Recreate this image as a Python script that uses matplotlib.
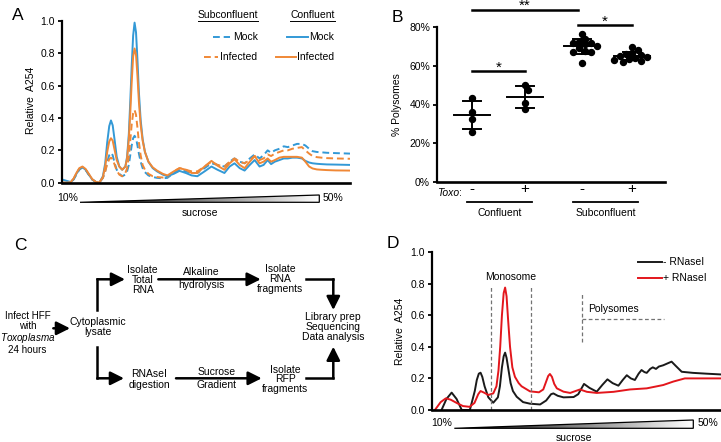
import numpy as np
import matplotlib
matplotlib.use('Agg')
import matplotlib.pyplot as plt
from matplotlib.patches import Polygon

plt.rcParams['font.family'] = ['Liberation Sans', 'DejaVu Sans']
plt.rcParams['font.size'] = 7.5
plt.rcParams['mathtext.fontset'] = 'custom'
plt.rcParams['mathtext.rm'] = 'Liberation Sans'
plt.rcParams['mathtext.it'] = 'Liberation Sans:italic'

W, H = 721, 442
BLUE = '#3399D6'
ORANGE = '#F08836'
RED = '#E3161C'
BLACK = '#1a1a1a'

# ---------------- panel A : polysome profiles (position along gradient 0-100)
gradA = [0, 1.5, 3, 4, 5, 6, 7.1, 8.2, 9.3, 10.5,
         11.8, 13, 14.2, 15.0, 15.7, 16.4, 17.0, 17.6, 18.3, 19.0,
         19.9, 20.9, 22, 22.6, 23.2, 23.7, 24.2, 24.7, 25.2, 25.7,
         26.2, 26.7, 27.3, 28, 28.8, 30, 31.5, 33, 35, 36.6,
         38.8, 40.8, 43, 45, 47, 49.5, 51.9, 54, 56.4, 58.2,
         59.9, 61.7, 63.4, 65.2, 66.9, 68.6, 70, 71.4, 72.6, 73.9,
         75.5, 77, 78.4, 80, 81.6, 83.3, 84.5, 85.8, 87, 88.5,
         90, 92, 95, 100]
confMock = [0.02, 0.012, 0.004, 0.02, 0.055, 0.085, 0.095, 0.08, 0.05, 0.02,
            0.003, 0.0, 0.04, 0.12, 0.25, 0.35, 0.385, 0.355, 0.26, 0.16,
            0.1, 0.08, 0.1, 0.16, 0.3, 0.5, 0.72, 0.91, 0.99, 0.93,
            0.76, 0.56, 0.39, 0.27, 0.19, 0.13, 0.09, 0.07, 0.05, 0.04,
            0.055, 0.073, 0.06, 0.045, 0.04, 0.07, 0.1, 0.08, 0.06, 0.1,
            0.12, 0.09, 0.075, 0.11, 0.14, 0.1, 0.11, 0.14, 0.115, 0.13,
            0.14, 0.15, 0.15, 0.155, 0.155, 0.15, 0.135, 0.125, 0.12, 0.117,
            0.115, 0.113, 0.112, 0.11]
confInf = [0.0, 0.0, 0.003, 0.025, 0.06, 0.09, 0.1, 0.085, 0.055, 0.022,
           0.004, 0.002, 0.035, 0.1, 0.19, 0.255, 0.275, 0.26, 0.2, 0.14,
           0.1, 0.08, 0.1, 0.15, 0.27, 0.43, 0.62, 0.78, 0.83, 0.79,
           0.66, 0.5, 0.36, 0.26, 0.19, 0.13, 0.095, 0.075, 0.055, 0.045,
           0.07, 0.09, 0.08, 0.06, 0.06, 0.1, 0.135, 0.105, 0.08, 0.12,
           0.145, 0.11, 0.09, 0.13, 0.165, 0.12, 0.13, 0.15, 0.13, 0.14,
           0.155, 0.16, 0.16, 0.16, 0.16, 0.155, 0.13, 0.1, 0.088, 0.082,
           0.08, 0.078, 0.076, 0.075]
subMock = [0.0, 0.0, 0.003, 0.02, 0.05, 0.08, 0.095, 0.08, 0.05, 0.02,
           0.004, 0.002, 0.03, 0.07, 0.13, 0.17, 0.185, 0.17, 0.12, 0.08,
           0.055, 0.04, 0.05, 0.07, 0.11, 0.17, 0.23, 0.275, 0.29, 0.275,
           0.23, 0.18, 0.13, 0.09, 0.065, 0.045, 0.035, 0.03, 0.027, 0.03,
           0.06, 0.08, 0.07, 0.06, 0.06, 0.09, 0.12, 0.11, 0.1, 0.13,
           0.15, 0.13, 0.12, 0.15, 0.175, 0.15, 0.17, 0.2, 0.185, 0.2,
           0.21, 0.225, 0.22, 0.23, 0.24, 0.24, 0.23, 0.21, 0.195, 0.19,
           0.188, 0.185, 0.183, 0.18]
subInf = [0.0, 0.0, 0.003, 0.022, 0.055, 0.085, 0.095, 0.08, 0.05, 0.02,
          0.004, 0.002, 0.03, 0.07, 0.115, 0.145, 0.155, 0.145, 0.11, 0.075,
          0.05, 0.04, 0.06, 0.09, 0.16, 0.26, 0.36, 0.43, 0.45, 0.42,
          0.34, 0.25, 0.17, 0.11, 0.08, 0.055, 0.04, 0.035, 0.032, 0.035,
          0.07, 0.09, 0.08, 0.07, 0.07, 0.1, 0.13, 0.11, 0.1, 0.13,
          0.15, 0.13, 0.12, 0.14, 0.165, 0.14, 0.15, 0.175, 0.165, 0.18,
          0.19, 0.2, 0.2, 0.21, 0.215, 0.22, 0.2, 0.18, 0.165, 0.158,
          0.155, 0.152, 0.15, 0.148]

# ---------------- panel B : % polysomes
groupsB = ['Confluent', 'Subconfluent']
toxoB = ['-', '+', '-', '+']
polyConfMock = [43.2, 36.0, 32.5, 26.0]
polyConfInf = [50.0, 47.5, 41.0, 37.5]
polySubMock = [76.5, 74, 72.5, 72, 72, 71, 70, 69, 67.5, 67, 67, 61.5]
polySubInf = [69.5, 68, 66.5, 66, 65.5, 65, 64.5, 64, 63.5, 63, 62.5, 62]
sigB = [('**', 0, 2, 89.0), ('*', 0, 1, 57.4), ('*', 2, 3, 81.0)]

# ---------------- panel D : RNaseI digestion profile
gradRed = [1.0, 3.0, 4.8, 6.5, 8.5, 10.7, 13.0, 14.7, 16.0, 16.8,
           18.0, 19.5, 21.2, 22.3, 23.0, 23.6, 24.2, 24.8, 25.3, 25.8,
           26.3, 27.0, 27.8, 28.7, 30.0, 31.0, 33.9, 37.0, 38.5, 39.5,
           40.2, 40.8, 41.5, 42.3, 43.2, 45.5, 47.8, 51.2, 53.6, 57.0,
           62.8, 68.5, 74.3, 80.0, 83.5, 87.5, 91.5, 100]
plusRNase = [0.0, 0.05, 0.074, 0.065, 0.045, 0.025, 0.02, 0.045, 0.1, 0.12,
             0.11, 0.095, 0.105, 0.15, 0.25, 0.4, 0.6, 0.74, 0.775, 0.72,
             0.58, 0.4, 0.27, 0.21, 0.17, 0.15, 0.118, 0.112, 0.13, 0.18,
             0.215, 0.228, 0.21, 0.165, 0.137, 0.116, 0.108, 0.13, 0.115, 0.108,
             0.115, 0.13, 0.137, 0.158, 0.18, 0.2, 0.2, 0.2]
gradBlack = [3.3, 5.0, 6.8, 8.5, 10.3, 13.1, 14.8, 15.5, 16.2, 16.8,
             17.4, 18.2, 19.5, 21.2, 22.8, 23.5, 24.2, 24.8, 25.3, 25.8,
             26.5, 27.2, 28.0, 29.3, 31.5, 33.9, 37.4, 39.5, 41.2, 42.0,
             43.5, 45.5, 49.0, 50.6, 52.6, 54.5, 57.0, 59.0, 60.7, 62.5,
             64.5, 66.0, 67.4, 68.8, 70.2, 71.5, 72.5, 73.5, 74.3, 75.5,
             76.4, 77.5, 78.5, 80.0, 81.5, 82.9, 84.3, 86.4, 90.3, 94.9,
             100]
minusRNase = [0.0, 0.07, 0.11, 0.07, 0.0, 0.0, 0.12, 0.19, 0.23, 0.236,
              0.21, 0.15, 0.08, 0.046, 0.08, 0.15, 0.27, 0.34, 0.363, 0.33,
              0.25, 0.17, 0.12, 0.084, 0.05, 0.04, 0.035, 0.06, 0.1, 0.105,
              0.09, 0.08, 0.082, 0.1, 0.165, 0.14, 0.116, 0.16, 0.194, 0.17,
              0.154, 0.19, 0.22, 0.2, 0.19, 0.23, 0.253, 0.24, 0.235, 0.26,
              0.27, 0.26, 0.275, 0.283, 0.295, 0.306, 0.28, 0.242, 0.235, 0.23,
              0.225]


def axes_px(fig, left, top, right, bottom):
    return fig.add_axes([left / W, 1 - bottom / H, (right - left) / W, (bottom - top) / H])


def style_axes(ax, lw=1.6):
    for s in ['top', 'right']:
        ax.spines[s].set_visible(False)
    ax.spines['left'].set_linewidth(lw)
    ax.spines['bottom'].set_linewidth(lw + 0.3)
    ax.tick_params(axis='y', length=3, width=1.3, pad=2, labelsize=7.5)
    ax.tick_params(axis='x', length=0)


def swarm(vals, xc, dx_unit=53.0, dy_unit=1.9375, diam=5.6):
    # simple beeswarm: shift points sideways until they don't overlap
    placed = []
    xs = np.zeros(len(vals))
    order = np.argsort(vals)[::-1]
    for i in order:
        y = vals[i] * dy_unit
        for k in range(0, 20):
            off = (k + 1) // 2 * (1 if k % 2 else -1) * diam * 0.55
            if all((off - px) ** 2 + (y - py) ** 2 >= diam ** 2 for px, py in placed):
                break
        placed.append((off, y))
        xs[i] = xc + off / dx_unit
    return xs


fig = plt.figure(figsize=(W / 100, H / 100), dpi=100)

# ---------------- A
axA = axes_px(fig, 62, 21, 350, 182.7)
axA.plot(gradA, subMock, color=BLUE, lw=1.4, ls=(0, (3.5, 2)))
axA.plot(gradA, subInf, color=ORANGE, lw=1.4, ls=(0, (3.5, 2)))
axA.plot(gradA, confMock, color=BLUE, lw=1.4)
axA.plot(gradA, confInf, color=ORANGE, lw=1.4)
axA.set_xlim(0, 100)
axA.set_ylim(0, 1)
style_axes(axA)
axA.set_xticks([])
axA.set_yticks(np.arange(0, 1.01, 0.2))
axA.set_yticklabels(['%.1f' % v for v in np.arange(0, 1.01, 0.2)])

# ---------------- B
posB = [1, 2, 3.075, 4.02]
axB = axes_px(fig, 437, 27, 665, 182)
for vals, xc in zip([polyConfMock, polyConfInf, polySubMock, polySubInf], posB):
    vals = np.array(vals)
    xs = swarm(vals, xc)
    axB.plot(xs, vals, 'o', color='k', ms=4.3, zorder=3, clip_on=False)
    m, sd = vals.mean(), vals.std(ddof=1)
    axB.plot([xc - 0.34, xc + 0.34], [m, m], color='k', lw=1.4, zorder=2)
    axB.plot([xc, xc], [m - sd, m + sd], color='k', lw=1.4, zorder=2)
    for e in (m - sd, m + sd):
        axB.plot([xc - 0.17, xc + 0.17], [e, e], color='k', lw=1.4, zorder=2)
for star, i0, i1, yb in sigB:
    x0 = posB[i0]
    x1 = posB[i1] if i1 != 2 else 3.0
    if i0 == 2:
        x0 = 3.0
    axB.plot([x0, x1], [yb, yb], color='k', lw=1.8, clip_on=False)
    axB.text((x0 + x1) / 2, yb - 0.3, star, ha='center', va='baseline', fontsize=11)
axB.set_xlim(0.34, 4.642)
axB.set_ylim(0, 80)
style_axes(axB)
axB.set_xticks(posB)
axB.set_xticklabels(toxoB, fontsize=11)
axB.tick_params(axis='x', pad=0)
axB.set_yticks([0, 20, 40, 60, 80])
axB.set_yticklabels(['0%', '20%', '40%', '60%', '80%'])

# ---------------- D
axD = axes_px(fig, 432, 252, 721, 410)
axD.plot(gradBlack, minusRNase, color=BLACK, lw=1.4)
axD.plot(gradRed, plusRNase, color=RED, lw=1.4)
dash = (0, (3, 2))
for xv in (20.4, 34.3):
    axD.plot([xv, xv], [0, 0.78], color='0.45', lw=0.9, ls=dash)
axD.plot([51.9, 51.9], [0.43, 0.735], color='0.45', lw=0.9, ls=dash)
axD.plot([51.9, 80.3], [0.576, 0.576], color='0.45', lw=0.9, ls=dash)
axD.text(27.3, 0.84, 'Monosome', ha='center', va='center', fontsize=7.5)
axD.text(54.0, 0.637, 'Polysomes', ha='left', va='center', fontsize=7.5)
axD.set_xlim(0, 100)
axD.set_ylim(0, 1)
style_axes(axD)
axD.set_xticks([])
axD.set_yticks(np.arange(0, 1.01, 0.2))
axD.set_yticklabels(['%.1f' % v for v in np.arange(0, 1.01, 0.2)])

# ---------------- overlay for labels, legends, gradients and the diagram
ov = fig.add_axes([0, 0, 1, 1])
ov.set_axis_off()
ov.patch.set_alpha(0)

for lab, x, y in [('A', 18, 16), ('B', 397, 17), ('C', 20, 245), ('D', 393, 243)]:
    ov.text(x, y, lab, fontsize=12.5, ha='center', va='center')

ov.text(30.7, 100, 'Relative  A254', rotation=90, ha='center', va='center')
ov.text(397, 104.5, '% Polysomes', rotation=90, ha='center', va='center')
ov.text(400, 331, 'Relative  A254', rotation=90, ha='center', va='center')

# panel A legend
ov.text(228.3, 15, 'Subconfluent', ha='center', va='center')
ov.plot([198, 258], [20.5, 20.5], color='k', lw=0.7)
ov.text(312.3, 15, 'Confluent', ha='center', va='center')
ov.plot([290, 335], [20.5, 20.5], color='k', lw=0.7)
ov.plot([213, 230], [37.3, 37.3], color=BLUE, lw=1.4, ls=(0, (3.5, 2)))
ov.text(232.7, 37.3, 'Mock', ha='left', va='center')
ov.plot([287, 308], [37.3, 37.3], color=BLUE, lw=1.4)
ov.text(309, 37.3, 'Mock', ha='left', va='center')
ov.plot([204, 218], [57.3, 57.3], color=ORANGE, lw=1.4, ls=(0, (3.5, 2)))
ov.text(220, 57.3, 'Infected', ha='left', va='center')
ov.plot([276, 296], [57.3, 57.3], color=ORANGE, lw=1.4)
ov.text(296.5, 57.3, 'Infected', ha='left', va='center')

# panel B x annotations
ov.text(459, 193.5, 'Toxo', ha='right', va='center', style='italic')
ov.text(459, 193.5, ':', ha='left', va='center')
ov.plot([467, 532], [202, 202], color='k', lw=1.3)
ov.plot([573, 638], [202, 202], color='k', lw=1.3)
ov.text(500, 212.5, groupsB[0], ha='center', va='center')
ov.text(606, 212.5, groupsB[1], ha='center', va='center')

# panel D legend
ov.plot([638, 662], [261.7, 261.7], color=BLACK, lw=1.4)
ov.text(663, 261.7, '- RNaseI', ha='left', va='center')
ov.plot([638, 662], [278.3, 278.3], color=RED, lw=1.4)
ov.text(663, 278.3, '+ RNaseI', ha='left', va='center')

# sucrose gradient wedges
ramp = np.linspace(0.0, 1.0, 256)[None, :]
for (x0, x1, ytop, ybot, xl, xr, ys) in [(80, 319.3, 195, 202.3, 68, 333, 213),
                                          (454.3, 693.3, 420, 428.3, 441.7, 708.3, 438.3)]:
    im = ov.imshow(ramp, extent=(x0, x1, ybot, ytop), cmap='gray', vmin=0, vmax=1,
                   aspect='auto', interpolation='bilinear')
    tri = Polygon([[x0, ybot], [x1, ytop], [x1, ybot]], closed=True, fc='none', ec='k', lw=0.9)
    ov.add_patch(tri)
    im.set_clip_path(tri)
    ov.text(xl, (ytop + ybot) / 2 - 1, '10%', ha='center', va='center')
    ov.text(xr, (ytop + ybot) / 2 - 1, '50%', ha='center', va='center')
    ov.text((x0 + x1) / 2, ys, 'sucrose', ha='center', va='center')

# panel C diagram
LW = 1.8
AP = dict(arrowstyle='-|>,head_length=0.9,head_width=0.45', lw=LW, color='k',
          shrinkA=0, shrinkB=0, mutation_scale=9)


def arrow(x0, y0, x1, y1):
    ov.annotate('', xy=(x1, y1), xytext=(x0, y0), arrowprops=AP)


def seg(xs, ys):
    ov.plot(xs, ys, color='k', lw=LW, solid_capstyle='projecting', solid_joinstyle='miter')


ov.text(27.5, 332.8, 'Infect HFF\nwith\n$\\mathit{Toxoplasma}$\n24 hours', ha='center',
        va='center', linespacing=1.0, fontsize=7.1)
arrow(53.3, 328.3, 70, 328.3)
ov.text(97.7, 327, 'Cytoplasmic\nlysate', ha='center', va='center', linespacing=1.1)

seg([97.3, 97.3], [310, 279.3])
arrow(97.3, 279.3, 125, 279.3)
ov.text(142.7, 280, 'Isolate\nTotal\nRNA', ha='center', va='center', linespacing=0.95)
arrow(158.3, 279.3, 260.7, 279.3)
ov.text(201, 272.3, 'Alkaline', ha='center', va='center')
ov.text(201, 285.5, 'hydrolysis', ha='center', va='center')
ov.text(280, 279, 'Isolate\nRNA\nfragments', ha='center', va='center', linespacing=0.95)
seg([306, 333.3], [279.3, 279.3])
arrow(333.3, 279.3, 333.3, 310)
ov.text(333, 327.5, 'Library prep\nSequencing\nData analysis', ha='center', va='center',
        linespacing=1.0)

seg([97.3, 97.3], [346.7, 378.3])
arrow(97.3, 378.3, 124, 378.3)
ov.text(149.3, 379.5, 'RNAseI\ndigestion', ha='center', va='center', linespacing=1.05)
arrow(176, 378.3, 261.7, 378.3)
ov.text(216.7, 372.3, 'Sucrose', ha='center', va='center')
ov.text(216.7, 385.5, 'Gradient', ha='center', va='center')
ov.text(285, 379.5, 'Isolate\nRFP\nfragments', ha='center', va='center', linespacing=0.95)
seg([306, 333.3], [378.3, 378.3])
arrow(333.3, 378.3, 333.3, 346.7)

ov.set_xlim(0, W)
ov.set_ylim(H, 0)

fig.savefig('out.png', dpi=100)
